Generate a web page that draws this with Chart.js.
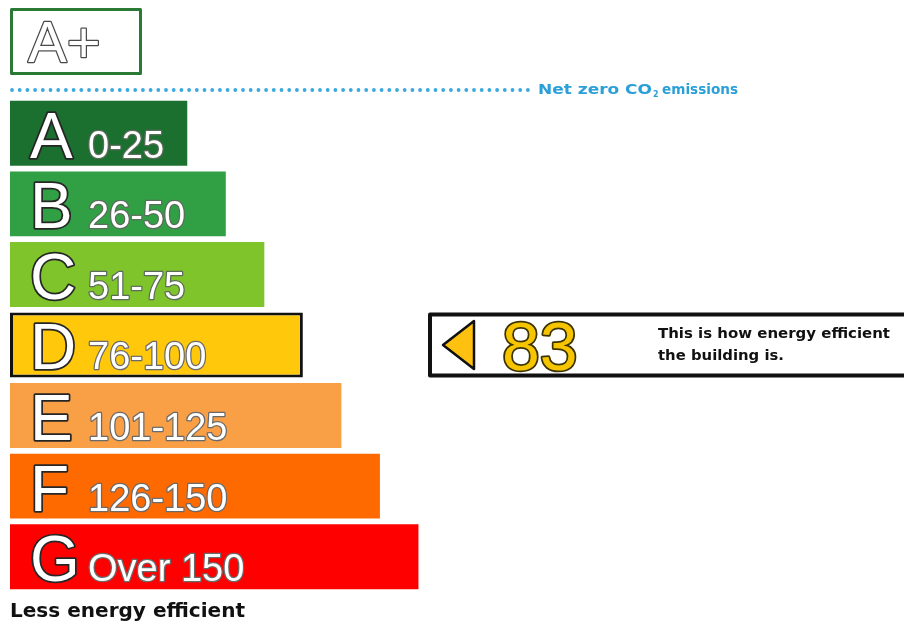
<!DOCTYPE html>
<html>
<head>
<meta charset="utf-8">
<script src="https://cdn.jsdelivr.net/npm/chart.js@4.4.1/dist/chart.umd.min.js"></script>
<style>
    body { margin: 0; background: #fff; }
    #wrap { width: 904px; height: 624px; }
</style>
</head>
<body>
<div id="wrap"><canvas id="energy-chart" width="904" height="624"></canvas></div>
<script>
// rating bands, top (best) to bottom (worst)
let bands = ['A', 'B', 'C', 'D', 'E', 'F', 'G'];
let bandRanges = ['0-25', '26-50', '51-75', '76-100', '101-125', '126-150', 'Over 150'];
let bandUpper = [25, 50, 75, 100, 125, 150, 175];
let bandColors = ['#1b6f2f', '#31a045', '#7ec42a', '#ffc80a', '#f99f45', '#ff6a00', '#ff0000'];

let rating = 83;
let ratingBand = 'D';
let ratingNote = ['This is how energy efficient', 'the building is.'];

// value axis range (bars all start from scoreMin so they grow with the band limit)
let scoreMin = -90;
let scoreMax = 490;

let chart;
let boldFont = '"DejaVu Sans", "Liberation Sans", sans-serif';

function outlinedText(ctx, str, x, y, fillCol, strokeCol, lw) {
    ctx.lineWidth = lw;
    ctx.strokeStyle = strokeCol;
    ctx.strokeText(str, x, y);
    ctx.fillStyle = fillCol;
    ctx.fillText(str, x, y);
}

// stretch a string to a given width (the original artwork uses a wide face)
function fitText(ctx, str, x, y, w) {
    let natural = ctx.measureText(str).width;
    ctx.save();
    ctx.translate(x, y);
    ctx.scale(w / natural, 1);
    ctx.fillText(str, 0, 0);
    ctx.restore();
}

let labelPlugin = {
    id: 'bandLabels',
    afterDatasetsDraw(chart) {
        let ctx = chart.ctx;
        let meta = chart.getDatasetMeta(0);
        ctx.save();
        ctx.lineJoin = 'round';
        ctx.textAlign = 'left';
        ctx.textBaseline = 'alphabetic';
        for (let i = 0; i < bands.length; i++) {
            let bar = meta.data[i];
            let bottom = bar.y + bar.height / 2;
            ctx.font = '64px "Liberation Sans", Arial, sans-serif';
            outlinedText(ctx, bands[i], 30, bottom - 8, '#ffffff', '#262626', 3.5);
            ctx.font = '38px "Liberation Sans", Arial, sans-serif';
            let edge = i < 3 ? '#5d6b5d' : '#6a6a6a';
            outlinedText(ctx, bandRanges[i], 88, bottom - 8, '#ffffff', edge, 2.5);
        }
        ctx.restore();
    },
    afterDraw(chart) {
        let ctx = chart.ctx;
        let yScale = chart.scales.y;
        ctx.save();
        ctx.lineJoin = 'round';

        // A+ box
        ctx.lineWidth = 3;
        ctx.strokeStyle = '#2a7a36';
        ctx.strokeRect(11.5, 9.5, 129, 64);
        ctx.font = '58px "Liberation Sans", Arial, sans-serif';
        outlinedText(ctx, 'A+', 28, 62, '#ffffff', '#4a4a4a', 2.5);

        // dotted net zero line
        ctx.fillStyle = '#3aa9df';
        for (let x = 12; x < 528; x += 7.7) {
            ctx.beginPath();
            ctx.arc(x, 90, 1.9, 0, Math.PI * 2);
            ctx.fill();
        }
        ctx.fillStyle = '#2a9fd8';
        ctx.font = 'bold 14px ' + boldFont;
        fitText(ctx, 'Net zero CO', 538, 94, 114);
        ctx.font = 'bold 8px ' + boldFont;
        ctx.fillText('2', 653, 97);
        ctx.font = 'bold 14px ' + boldFont;
        fitText(ctx, 'emissions', 662, 94, 76);

        // rating pointer on the rating band row
        let idx = bands.indexOf(ratingBand);
        let bar = chart.getDatasetMeta(0).data[idx];
        let cy = yScale.getPixelForValue(idx);
        let h = bar.height;
        ctx.lineWidth = 4;
        ctx.strokeStyle = '#111111';
        ctx.strokeRect(430, cy - h / 2 + 2, 480, h - 4);

        ctx.beginPath();
        ctx.moveTo(443, cy);
        ctx.lineTo(474, cy - 24);
        ctx.lineTo(474, cy + 24);
        ctx.closePath();
        ctx.fillStyle = '#fec10f';
        ctx.fill();
        ctx.lineWidth = 2.5;
        ctx.stroke();

        ctx.font = '68px "Liberation Sans", Arial, sans-serif';
        outlinedText(ctx, String(rating), 502, cy + 25, '#f6c500', '#3b3300', 3.5);

        ctx.fillStyle = '#111111';
        ctx.font = 'bold 14px ' + boldFont;
        fitText(ctx, ratingNote[0], 658, cy - 7, 232);
        fitText(ctx, ratingNote[1], 658, cy + 15, 126);

        // bottom caption
        ctx.font = 'bold 20px ' + boldFont;
        fitText(ctx, 'Less energy efficient', 10, 617, 235);

        ctx.restore();
    }
};

function initializeChart() {
    let ctx = document.getElementById('energy-chart').getContext('2d');
    chart = new Chart(ctx, {
        type: 'bar',
        data: {
            labels: bands,
            datasets: [{
                data: bandUpper,
                base: scoreMin,
                backgroundColor: bandColors,
                borderColor: '#111111',
                borderWidth: bands.map(b => b === ratingBand ? 3 : 0),
                borderSkipped: false,
                barPercentage: 0.92,
                categoryPercentage: 1
            }]
        },
        options: {
            indexAxis: 'y',
            responsive: false,
            animation: false,
            layout: { padding: { left: 10, top: 98, right: 0, bottom: 32 } },
            plugins: {
                legend: { display: false },
                tooltip: { enabled: false }
            },
            scales: {
                x: { display: false, min: scoreMin, max: scoreMax },
                y: { display: false }
            }
        },
        plugins: [labelPlugin]
    });
}

initializeChart();
</script>
</body>
</html>
